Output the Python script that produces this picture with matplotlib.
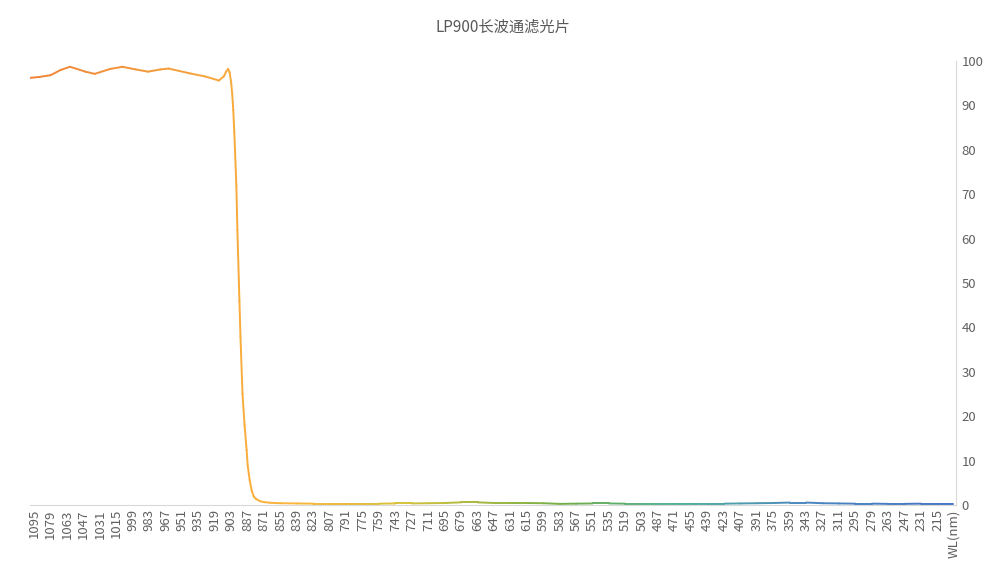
import numpy as np
import matplotlib.pyplot as plt
from matplotlib.collections import LineCollection
from matplotlib.colors import LinearSegmentedColormap

plt.rcParams['font.family'] = ['Noto Sans CJK SC', 'DejaVu Sans']

# ------------------------------ Data ------------------------------
title = "LP900长波通滤光片"

# wavelength (nm) and transmittance (%)
wl = [200, 215, 231, 247, 263, 279, 295, 311, 327, 343, 359, 375, 391, 407,
      423, 439, 455, 471, 487, 503, 519, 535, 551, 567, 583, 599, 615, 631,
      647, 663, 679, 695, 711, 727, 743, 759, 775, 791, 807, 823, 839, 855,
      865, 871, 875, 879, 881, 883, 885, 887, 888, 890, 892, 894, 895, 897,
      898, 900, 901, 902, 903, 904.5, 906, 908, 910, 915, 928, 943, 964, 972,
      984, 996, 1009, 1021, 1036, 1045, 1060, 1069, 1079, 1090, 1099]
trans = [0.3, 0.3, 0.3, 0.25, 0.25, 0.3, 0.3, 0.35, 0.4, 0.55, 0.55, 0.45,
         0.4, 0.35, 0.3, 0.3, 0.3, 0.3, 0.3, 0.3, 0.3, 0.35, 0.35, 0.3, 0.25,
         0.4, 0.45, 0.45, 0.45, 0.6, 0.6, 0.45, 0.4, 0.35, 0.35, 0.3, 0.3,
         0.3, 0.3, 0.3, 0.35, 0.4, 0.5, 0.65, 0.85, 1.4, 1.9, 3.2, 5.6, 9.0,
         12.4, 18.0, 25.0, 38.0, 46.0, 62.0, 72.0, 84.0, 89.0, 92.5, 95.0,
         97.4, 98.2, 97.6, 96.6, 95.6, 96.5, 97.2, 98.3, 98.1, 97.6, 98.1,
         98.7, 98.2, 97.1, 97.6, 98.7, 98.0, 96.8, 96.4, 96.2]

# category labels shown every 16 nm, first category is the header cell
tick_pos = [199] + list(range(215, 1096, 16))
tick_lab = ["WL(nm)"] + [str(v) for v in range(215, 1096, 16)]
yticks = list(range(0, 101, 10))

# ------------------------------ Plot ------------------------------
fig = plt.figure(figsize=(10.05, 5.69), dpi=100)
ax = fig.add_axes([30 / 1005, 64 / 569, 926 / 1005, 444 / 569])

x = np.array(wl, dtype=float)
y = np.array(trans, dtype=float)
pts = np.column_stack([x, y]).reshape(-1, 1, 2)
segs = np.concatenate([pts[:-1], pts[1:]], axis=1)

cmap = LinearSegmentedColormap.from_list(
    "grad", [(0.0, "#4472C4"), (0.16, "#4A86C0"), (0.3, "#4FB29A"),
             (0.42, "#70AD47"), (0.6, "#D7C23A"), (0.72, "#FBB53C"),
             (1.0, "#EE8338")])
lc = LineCollection(segs, cmap=cmap, linewidth=1.4, capstyle='round',
                    joinstyle='round')
lc.set_array((x[:-1] + x[1:]) / 2)
lc.set_clim(199, 1099)
ax.add_collection(lc)

ax.set_xlim(1099, 197)
ax.set_ylim(0, 100)

ax.yaxis.tick_right()
ax.set_yticks(yticks)
ax.set_xticks(tick_pos)
ax.set_xticklabels(tick_lab, rotation=90, va='top', ha='center')
ax.tick_params(axis='both', length=0, colors='#606060', labelsize=9.5)
ax.tick_params(axis='x', pad=3)
ax.tick_params(axis='y', pad=4)
for lab in ax.get_yticklabels():
    lab.set_horizontalalignment('left')

for s in ['top', 'left']:
    ax.spines[s].set_visible(False)
ax.spines['bottom'].set_color('#D9D9D9')
ax.spines['right'].set_color('#D9D9D9')

fig.text(0.5, 1 - 27 / 569, title, ha='center', va='center',
         fontsize=11, color='#595959')

plt.savefig("out.png", dpi=100)
